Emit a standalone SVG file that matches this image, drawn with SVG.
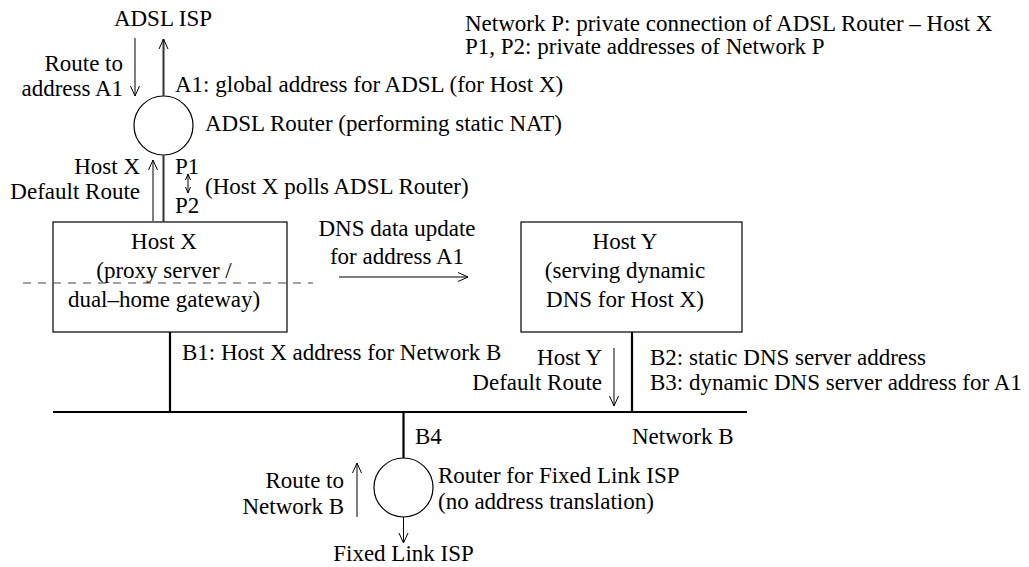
<svg xmlns="http://www.w3.org/2000/svg" width="1029" height="567" viewBox="0 0 1029 567">
<style>
text{font-family:"Liberation Serif","Times New Roman",serif;font-size:23px;fill:#000}
.m{text-anchor:middle}.e{text-anchor:end}
.box{fill:#fff;stroke:#000;stroke-width:1.2}
.ring{fill:#fff;stroke:#000;stroke-width:1.2}
.link{stroke:#333;stroke-width:2;fill:none}
.net{stroke:#000;stroke-width:2.2;fill:none}
.arr{stroke:#000;stroke-width:1;fill:none;marker-end:url(#ah)}
.dash{stroke:#444;stroke-width:1;stroke-dasharray:8 7;fill:none}
</style>
<defs>
<marker id="ah" markerUnits="userSpaceOnUse" markerWidth="14" markerHeight="12" refX="12" refY="6" orient="auto-start-reverse" viewBox="0 0 14 12">
<path d="M2,1.5 L12,6 L2,10.5" fill="none" stroke="#000" stroke-width="1"/>
</marker>
<marker id="ahs" markerUnits="userSpaceOnUse" markerWidth="8" markerHeight="8" refX="7" refY="4" orient="auto-start-reverse" viewBox="0 0 8 8">
<path d="M1,1.5 L7,4 L1,6.5" fill="none" stroke="#000" stroke-width="1"/>
</marker>
</defs>
<g id="adsl-isp"><text class="m" x="163" y="26">ADSL ISP</text></g>
<g id="legend">
<text x="465" y="31">Network P: private connection of ADSL Router – Host X</text>
<text x="465" y="54">P1, P2: private addresses of Network P</text>
</g>
<g id="adsl-router">
<circle class="ring" cx="163.5" cy="125.5" r="29.5"/>
<text x="205" y="131">ADSL Router (performing static NAT)</text>
<text x="175" y="92">A1: global address for ADSL (for Host X)</text>
<text class="e" x="123" y="71">Route to</text>
<text class="e" x="123" y="96">address A1</text>
<text class="e" x="140" y="174">Host X</text>
<text class="e" x="140" y="199">Default Route</text>
<text x="175" y="174">P1</text>
<text x="175" y="213">P2</text>
<text x="205" y="194">(Host X polls ADSL Router)</text>
</g>
<g id="host-x">
<rect class="box" x="53" y="222" width="234" height="110"/>
<text class="m" x="164" y="249">Host X</text>
<text class="m" x="164" y="278">(proxy server /</text>
<text class="m" x="164" y="307">dual–home gateway)</text>
</g>
<g id="dns-update">
<text class="m" x="397" y="236">DNS data update</text>
<text class="m" x="397" y="264">for address A1</text>
</g>
<g id="host-y">
<rect class="box" x="521" y="222" width="221" height="110"/>
<text class="m" x="625" y="249">Host Y</text>
<text class="m" x="625" y="278">(serving dynamic</text>
<text class="m" x="625" y="307">DNS for Host X)</text>
</g>
<g id="network-b">
<text x="182" y="360">B1: Host X address for Network B</text>
<text class="e" x="602" y="365">Host Y</text>
<text class="e" x="602" y="390">Default Route</text>
<text x="650" y="365">B2: static DNS server address</text>
<text x="650" y="390">B3: dynamic DNS server address for A1</text>
<text x="415" y="444">B4</text>
<text x="632" y="444">Network B</text>
</g>
<g id="fixed-router">
<circle class="ring" cx="403.5" cy="487.5" r="29.5"/>
<text x="438" y="483">Router for Fixed Link ISP</text>
<text x="438" y="509">(no address translation)</text>
<text class="e" x="344" y="488">Route to</text>
<text class="e" x="344" y="514">Network B</text>
</g>
<g id="fixed-isp"><text class="m" x="403.5" y="561">Fixed Link ISP</text></g>
<g id="connectors">
<line class="link" x1="163.5" y1="96" x2="163.5" y2="39" marker-end="url(#ah)"/>
<line class="link" x1="163.5" y1="155" x2="163.5" y2="222"/>
<line class="arr" x1="135" y1="38" x2="135" y2="96"/>
<line class="arr" x1="153" y1="221" x2="153" y2="160"/>
<line x1="188" y1="174" x2="188" y2="193" stroke="#000" stroke-width="1" marker-start="url(#ahs)" marker-end="url(#ahs)"/>
<line class="arr" x1="339" y1="277" x2="468" y2="277"/>
<line class="dash" x1="23" y1="283" x2="313" y2="283"/>
<line class="net" x1="170" y1="332" x2="170" y2="412"/>
<line class="net" x1="632" y1="332" x2="632" y2="412"/>
<line class="arr" x1="614" y1="348" x2="614" y2="406"/>
<line class="net" x1="53" y1="412" x2="747" y2="412"/>
<line class="net" x1="403.5" y1="412" x2="403.5" y2="458"/>
<line class="arr" x1="403.5" y1="517" x2="403.5" y2="543"/>
<line class="arr" x1="357" y1="517" x2="357" y2="463"/>
</g>
</svg>
